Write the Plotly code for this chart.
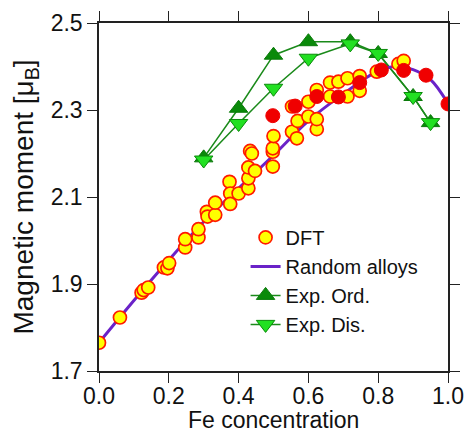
import plotly.graph_objects as go

# DFT supercell results (yellow circles)
dft_x = [0.000, 0.060, 0.122, 0.128, 0.141, 0.186, 0.196, 0.201, 0.247, 0.247,
         0.285, 0.285, 0.309, 0.311, 0.333, 0.333, 0.374, 0.376, 0.376, 0.400,
         0.428, 0.428, 0.428, 0.447, 0.433, 0.438, 0.498, 0.498, 0.498, 0.500,
         0.553, 0.567, 0.569, 0.553, 0.600, 0.600, 0.624, 0.624, 0.624, 0.662,
         0.662, 0.686, 0.712, 0.712, 0.747, 0.747, 0.796, 0.858, 0.873]
dft_y = [1.765, 1.823, 1.880, 1.886, 1.892, 1.938, 1.936, 1.948, 1.984, 2.003,
         2.007, 2.026, 2.066, 2.055, 2.059, 2.087, 2.135, 2.108, 2.084, 2.108,
         2.120, 2.143, 2.168, 2.160, 2.206, 2.200, 2.170, 2.204, 2.212, 2.240,
         2.250, 2.235, 2.275, 2.308, 2.285, 2.319, 2.256, 2.279, 2.346, 2.331,
         2.363, 2.365, 2.331, 2.373, 2.344, 2.378, 2.388, 2.406, 2.413]

# ordered structures (solid red circles)
ord_dft_x = [0.498, 0.562, 0.624, 0.686, 0.747, 0.809, 0.873, 0.937, 1.000]
ord_dft_y = [2.287, 2.309, 2.331, 2.330, 2.363, 2.392, 2.391, 2.380, 2.314]

# random alloys (CPA)
rand_x = [0.0, 0.1, 0.2, 0.3, 0.4, 0.5, 0.6, 0.7, 0.8, 0.85, 0.9, 0.95, 1.0]
rand_y = [1.765, 1.862, 1.955, 2.043, 2.120, 2.196, 2.275, 2.337, 2.390, 2.400,
          2.393, 2.370, 2.315]

# experiment, ordered
exp_ord_x = [0.30, 0.40, 0.50, 0.60, 0.72, 0.80, 0.90, 0.95]
exp_ord_y = [2.190, 2.304, 2.426, 2.457, 2.457, 2.430, 2.331, 2.271]

# experiment, disordered
exp_dis_x = [0.30, 0.40, 0.50, 0.60, 0.72, 0.80, 0.90, 0.95]
exp_dis_y = [2.185, 2.269, 2.350, 2.419, 2.452, 2.430, 2.331, 2.271]

x_ticks = [0.0, 0.2, 0.4, 0.6, 0.8, 1.0]
y_ticks = [1.7, 1.9, 2.1, 2.3, 2.5]

FONT = "Liberation Sans, Arial, Helvetica, sans-serif"

fig = go.Figure()

fig.add_trace(go.Scatter(
    x=exp_ord_x, y=exp_ord_y, mode="lines+markers", name="Exp. Ord.",
    legendrank=3,
    line=dict(color="#1a8a1a", width=1.5),
    marker=dict(symbol="triangle-up", size=16, color="#0a8a0a",
                line=dict(color="#0a7a0a", width=1)),
))
fig.add_trace(go.Scatter(
    x=exp_dis_x, y=exp_dis_y, mode="lines+markers", name="Exp. Dis.",
    legendrank=4,
    line=dict(color="#1a8a1a", width=1.5),
    marker=dict(symbol="triangle-down", size=16, color="#22e022",
                line=dict(color="#0a8a0a", width=1)),
))
fig.add_trace(go.Scatter(
    x=rand_x, y=rand_y, mode="lines", name="Random alloys",
    legendrank=2,
    line=dict(color="#6a22c8", width=3, shape="spline"),
))
fig.add_trace(go.Scatter(
    x=dft_x, y=dft_y, mode="markers", name="DFT",
    legendrank=1,
    marker=dict(symbol="circle", size=13, color="#ffff00",
                line=dict(color="#ff1a00", width=1.7)),
))
fig.add_trace(go.Scatter(
    x=ord_dft_x, y=ord_dft_y, mode="markers", name="DFT ordered",
    showlegend=False,
    marker=dict(symbol="circle", size=14, color="#f00000",
                line=dict(color="#f00000", width=1)),
))

fig.update_layout(
    width=466, height=434,
    margin=dict(l=99, r=18, t=23, b=63, autoexpand=False),
    paper_bgcolor="white", plot_bgcolor="white",
    font=dict(family=FONT, size=23, color="#111111"),
    showlegend=True,
    legend=dict(
        x=0.42, y=0.44, xanchor="left", yanchor="top",
        bgcolor="rgba(0,0,0,0)", font=dict(size=20),
        itemwidth=30, tracegroupgap=0,
    ),
    xaxis=dict(
        range=[0, 1], tickvals=x_ticks, ticktext=[f"{v:.1f}" for v in x_ticks],
        ticks="outside", ticklen=10, tickwidth=1.2, tickcolor="#222",
        ticklabelstandoff=-6,
        showline=True, linecolor="#222", linewidth=1.5, mirror="ticks",
        showgrid=False, zeroline=False, automargin=False,
    ),
    yaxis=dict(
        range=[1.7, 2.5], tickvals=y_ticks, ticktext=[f"{v:.1f}" for v in y_ticks],
        ticks="outside", ticklen=10, tickwidth=1.2, tickcolor="#222",
        showline=True, linecolor="#222", linewidth=1.5, mirror="ticks",
        showgrid=False, zeroline=False, automargin=False,
        title=dict(text="Magnetic moment [μ<sub>B</sub>]", standoff=9),
    ),
    annotations=[dict(
        text="Fe concentration", xref="paper", yref="paper",
        x=0.5, y=0, xanchor="center", yanchor="middle", yshift=-49,
        showarrow=False, font=dict(size=23),
    )],
)

fig.write_html("out.html")
